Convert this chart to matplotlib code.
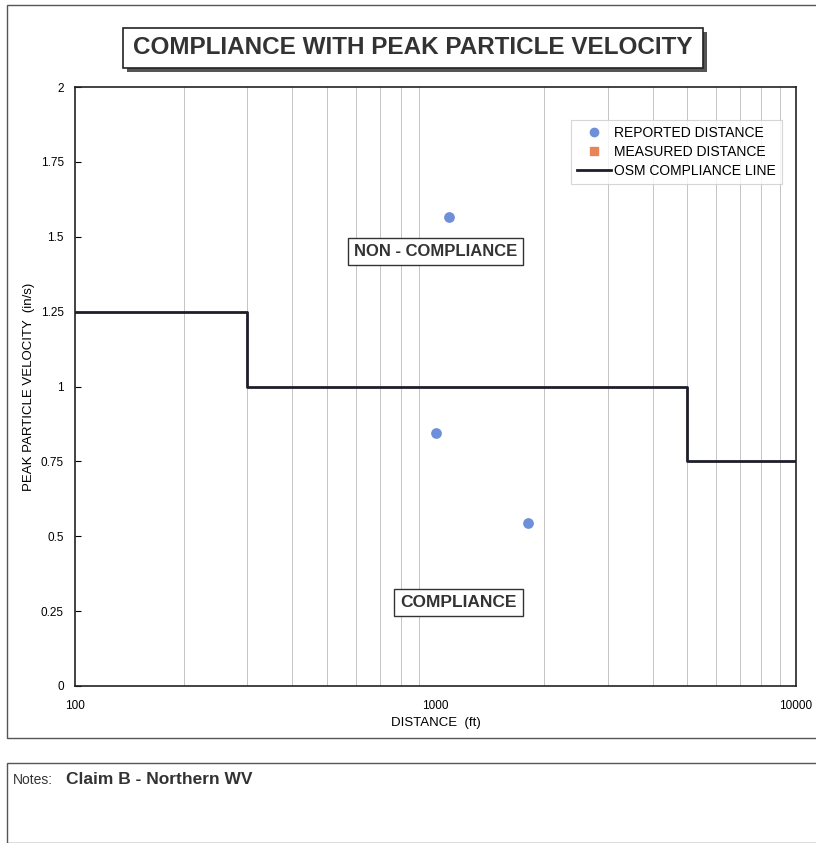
import matplotlib
matplotlib.use("Agg")
import matplotlib.pyplot as plt
from matplotlib.patches import Rectangle
from matplotlib.lines import Line2D

plt.rcParams['font.family'] = ['Liberation Sans', 'DejaVu Sans']

# Data
reported_dist = [1090, 1000, 1800]
reported_ppv = [1.565, 0.845, 0.545]
measured_dist = []
measured_ppv = []
osm_dist = [100, 300, 300, 5000, 5000, 10000]
osm_ppv = [1.25, 1.25, 1.0, 1.0, 0.75, 0.75]
y_ticks = [0, 0.25, 0.5, 0.75, 1, 1.25, 1.5, 1.75, 2]
y_tick_labels = ['0', '0.25', '0.5', '0.75', '1', '1.25', '1.5', '1.75', '2']
x_ticks = [100, 1000, 10000]
x_tick_labels = ['100', '1000', '10000']

W, H = 816, 843
fig = plt.figure(figsize=(W/100, H/100), dpi=100)

def fx(px): return px / W
def fy(py): return 1 - py / H

# outer frames
fig.patches.append(Rectangle((fx(7), fy(738)), 1.0, fy(5) - fy(738), transform=fig.transFigure,
                             fill=False, edgecolor='#555555', lw=1.0))
fig.patches.append(Rectangle((fx(7), fy(843)), 1.0, fy(763) - fy(843), transform=fig.transFigure,
                             fill=False, edgecolor='#555555', lw=1.0))

ax = fig.add_axes([fx(75), fy(686), fx(796) - fx(75), fy(87) - fy(686)])
ax.set_xscale('log')
ax.set_xlim(100, 10000)
ax.set_ylim(0, 2)

ax.grid(True, which='minor', axis='x', color='#c4c4c4', lw=0.7)
ax.grid(False, which='major')
ax.tick_params(axis='x', which='both', length=0, labelsize=8.5, pad=10)
ax.set_xticks(x_ticks)
ax.set_xticklabels(x_tick_labels)
ax.set_yticks(y_ticks)
ax.set_yticklabels(y_tick_labels)
ax.tick_params(axis='y', direction='in', length=4, labelsize=8.5, pad=8)
for s in ax.spines.values():
    s.set_color('#222222'); s.set_linewidth(1.2)

ax.plot(osm_dist, osm_ppv, color='#1e1e2a', lw=2, label='OSM COMPLIANCE LINE', zorder=3)
ax.scatter(reported_dist, reported_ppv, s=45, color='#6f8fd8', zorder=4, label='REPORTED DISTANCE')
ax.scatter(measured_dist, measured_ppv, s=45, marker='s', color='#e8845a', zorder=4, label='MEASURED DISTANCE')

ax.set_xlabel('DISTANCE  (ft)', fontsize=9.5, labelpad=4)
ax.set_ylabel('PEAK PARTICLE VELOCITY  (in/s)', fontsize=9.5, labelpad=4)

handles = [Line2D([], [], marker='o', ls='none', color='#6f8fd8', markersize=6),
           Line2D([], [], marker='s', ls='none', color='#e8845a', markersize=6),
           Line2D([], [], color='#1e1e2a', lw=2)]
leg = ax.legend(handles, ['REPORTED DISTANCE', 'MEASURED DISTANCE', 'OSM COMPLIANCE LINE'],
                loc='upper right', bbox_to_anchor=(0.98, 0.945), borderaxespad=0, fontsize=10,
                frameon=True, fancybox=False, handlelength=2.4, handletextpad=0.2,
                borderpad=0.45, labelspacing=0.35)
leg.get_frame().set_edgecolor('#cccccc'); leg.get_frame().set_linewidth(0.8)

box = dict(boxstyle='square,pad=0.35', facecolor='white', edgecolor='#333333', lw=1)
ax.text(1000, 1.45, 'NON - COMPLIANCE', ha='center', va='center', fontsize=12, fontweight='bold',
        color='#333333', bbox=box, zorder=5)
ax.text(1160, 0.28, 'COMPLIANCE', ha='center', va='center', fontsize=12.5, fontweight='bold',
        color='#333333', bbox=box, zorder=5)

# Title with shadow box
fig.patches.append(Rectangle((fx(127), fy(72)), fx(707) - fx(127), fy(32) - fy(72), transform=fig.transFigure,
                             facecolor='#555555', edgecolor='none'))
fig.patches.append(Rectangle((fx(123), fy(68)), fx(703) - fx(123), fy(28) - fy(68), transform=fig.transFigure,
                             facecolor='white', edgecolor='#222222', lw=1.2))
fig.text(fx(413), fy(48), 'COMPLIANCE WITH PEAK PARTICLE VELOCITY', ha='center', va='center',
         fontsize=17.5, fontweight='bold', color='#333333')

fig.text(fx(13), fy(780), 'Notes:', fontsize=10, va='center', ha='left', color='#333333')
fig.text(fx(66), fy(779), 'Claim B - Northern WV', fontsize=12.5, fontweight='bold', va='center',
         ha='left', color='#333333')

fig.savefig('out.png', dpi=100, facecolor='white')
